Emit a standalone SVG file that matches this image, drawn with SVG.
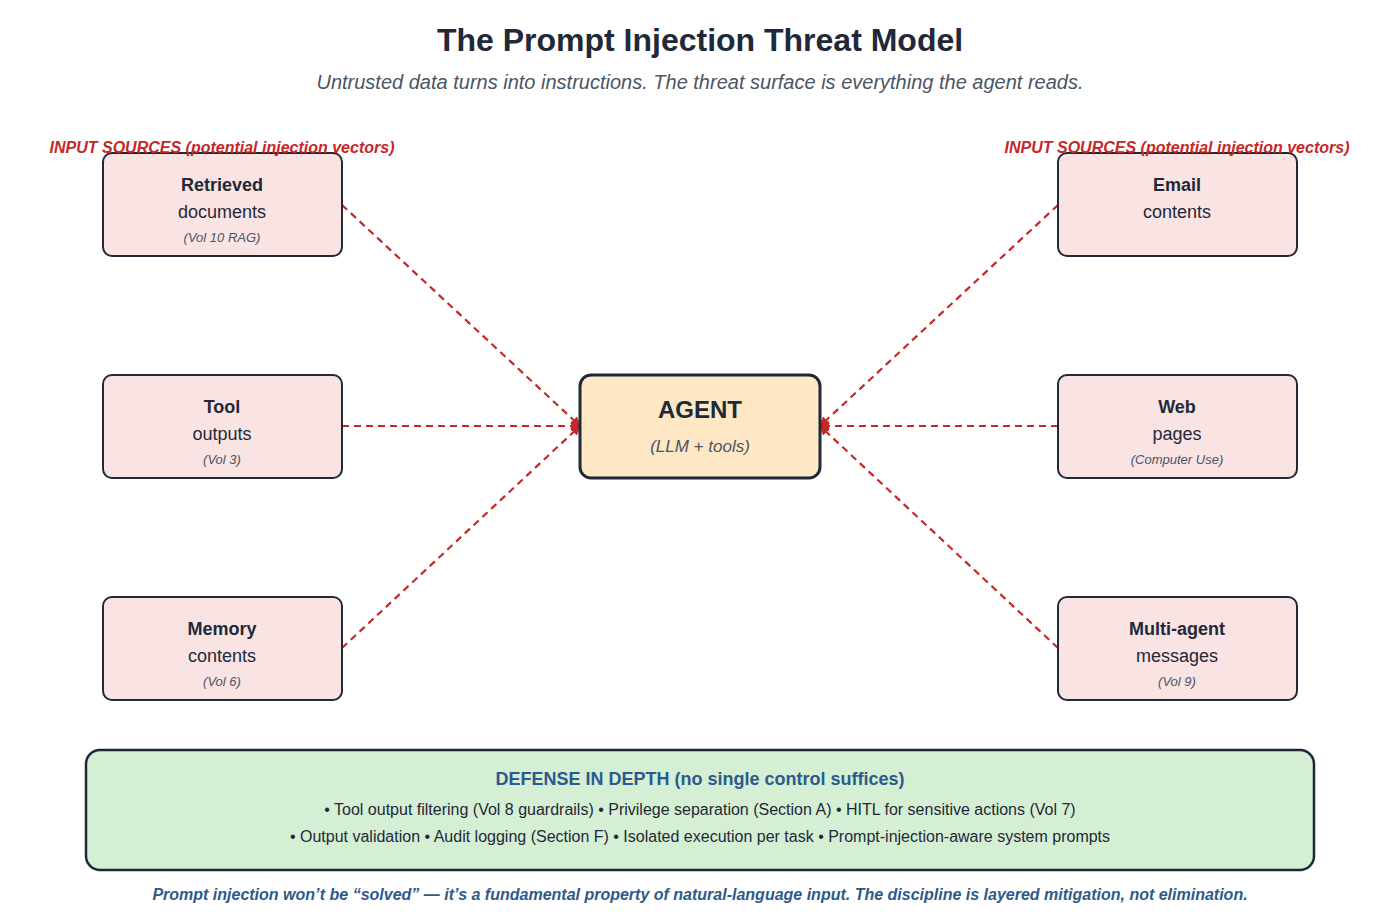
<svg xmlns="http://www.w3.org/2000/svg" width="1400" height="921" viewBox="0 0 1400 921">
<style>
text{font-family:"Liberation Sans",Arial,sans-serif;text-anchor:middle}
.src{fill:#f9e3e3;stroke:#1f2937;stroke-width:2}
.t{font-size:18px;font-weight:bold;fill:#1f2937}
.s{font-size:18px;fill:#1f2937}
.n{font-size:13px;font-style:italic;fill:#4b5563}
.lab{font-size:16px;font-weight:bold;font-style:italic;fill:#c62828}
.c{stroke:#c62828;stroke-width:2.2;stroke-dasharray:7,5;fill:none;marker-end:url(#a)}
</style>
<defs><marker id="a" markerWidth="10" markerHeight="10" refX="9" refY="5" orient="auto" markerUnits="userSpaceOnUse"><path d="M0,0 L10,5 L0,10 z" fill="#c62828"/></marker></defs>
<rect width="1400" height="921" fill="#fff"/>
<text x="700" y="51" style="font-size:32px;font-weight:bold;fill:#1f2937">The Prompt Injection Threat Model</text>
<text x="700" y="89" style="font-size:20px;font-style:italic;fill:#4b5563">Untrusted data turns into instructions. The threat surface is everything the agent reads.</text>
<g id="connectors">
<path class="c" d="M342,205 L580,426"/>
<path class="c" d="M342,426 L580,426"/>
<path class="c" d="M342,648 L580,426"/>
<path class="c" d="M1058,205 L820,426"/>
<path class="c" d="M1058,426 L820,426"/>
<path class="c" d="M1058,648 L820,426"/>
</g>
<g id="n1"><rect class="src" x="103" y="153" width="239" height="103" rx="9"/><text class="t" x="222" y="191">Retrieved</text><text class="s" x="222" y="218">documents</text><text class="n" x="222" y="242">(Vol 10 RAG)</text></g>
<g id="n2"><rect class="src" x="103" y="375" width="239" height="103" rx="9"/><text class="t" x="222" y="413">Tool</text><text class="s" x="222" y="440">outputs</text><text class="n" x="222" y="464">(Vol 3)</text></g>
<g id="n3"><rect class="src" x="103" y="597" width="239" height="103" rx="9"/><text class="t" x="222" y="635">Memory</text><text class="s" x="222" y="662">contents</text><text class="n" x="222" y="686">(Vol 6)</text></g>
<g id="n4"><rect class="src" x="1058" y="153" width="239" height="103" rx="9"/><text class="t" x="1177" y="191">Email</text><text class="s" x="1177" y="218">contents</text></g>
<g id="n5"><rect class="src" x="1058" y="375" width="239" height="103" rx="9"/><text class="t" x="1177" y="413">Web</text><text class="s" x="1177" y="440">pages</text><text class="n" x="1177" y="464">(Computer Use)</text></g>
<g id="n6"><rect class="src" x="1058" y="597" width="239" height="103" rx="9"/><text class="t" x="1177" y="635">Multi-agent</text><text class="s" x="1177" y="662">messages</text><text class="n" x="1177" y="686">(Vol 9)</text></g>
<text class="lab" x="222" y="153">INPUT SOURCES (potential injection vectors)</text>
<text class="lab" x="1177" y="153">INPUT SOURCES (potential injection vectors)</text>
<g id="agent"><rect x="580" y="375" width="240" height="103" rx="11" fill="#fde7c4" stroke="#1f2937" stroke-width="3"/><text x="700" y="418" style="font-size:24px;font-weight:bold;fill:#1f2937">AGENT</text><text x="700" y="452" style="font-size:17px;font-style:italic;fill:#4b5563">(LLM + tools)</text></g>
<g id="defense"><rect x="86" y="750" width="1228" height="120" rx="14" fill="#d5efd4" stroke="#1f2937" stroke-width="2.5"/>
<text x="700" y="785" style="font-size:18px;font-weight:bold;fill:#2d5a8a">DEFENSE IN DEPTH (no single control suffices)</text>
<text x="700" y="815" style="font-size:16px;fill:#1f2937">• Tool output filtering (Vol 8 guardrails) • Privilege separation (Section A) • HITL for sensitive actions (Vol 7)</text>
<text x="700" y="842" style="font-size:16px;fill:#1f2937">• Output validation • Audit logging (Section F) • Isolated execution per task • Prompt-injection-aware system prompts</text></g>
<text x="700" y="900" style="font-size:16px;font-weight:bold;font-style:italic;fill:#2d5a8a">Prompt injection won’t be “solved” — it’s a fundamental property of natural-language input. The discipline is layered mitigation, not elimination.</text>
</svg>
